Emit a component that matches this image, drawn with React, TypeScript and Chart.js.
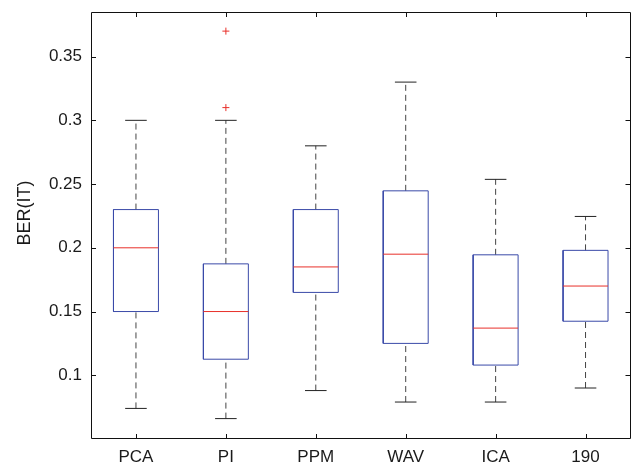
import React, { useEffect, useRef } from "react";
import { Chart, registerables } from "chart.js";

Chart.register(...registerables);

const categories = ["PCA", "PI", "PPM", "WAV", "ICA", "190"];
const lowerWhisker = [0.074, 0.066, 0.088, 0.079, 0.079, 0.090];
const q1 = [0.150, 0.1126, 0.165, 0.125, 0.108, 0.1424];
const median = [0.200, 0.150, 0.185, 0.195, 0.137, 0.170];
const q3 = [0.230, 0.1874, 0.230, 0.2447, 0.1945, 0.198];
const upperWhisker = [0.300, 0.300, 0.280, 0.330, 0.2537, 0.2246];
const outlierCategory = [2, 2];
const outlierValues = [0.31, 0.37];
const yTickValues = [0.1, 0.15, 0.2, 0.25, 0.3, 0.35];
const yTickLabels = ["0.1", "0.15", "0.2", "0.25", "0.3", "0.35"];
const yLabel = "BER(IT)";

const BOX_HALF = 0.25;
const CAP_HALF = 0.12;
const FONT = "'Liberation Sans', Arial, Helvetica, sans-serif";
const GAP = { x: null, y: null };

function buildBoxes() {
  const pts: any[] = [];
  categories.forEach((_, i) => {
    const c = i + 1;
    pts.push({ x: c - BOX_HALF, y: q1[i] }, { x: c + BOX_HALF, y: q1[i] }, { x: c + BOX_HALF, y: q3[i] },
      { x: c - BOX_HALF, y: q3[i] }, { x: c - BOX_HALF, y: q1[i] }, GAP);
  });
  return pts;
}
function buildMedians() {
  const pts: any[] = [];
  categories.forEach((_, i) => {
    const c = i + 1;
    pts.push({ x: c - BOX_HALF, y: median[i] }, { x: c + BOX_HALF, y: median[i] }, GAP);
  });
  return pts;
}
function buildWhiskers() {
  const pts: any[] = [];
  categories.forEach((_, i) => {
    const c = i + 1;
    pts.push({ x: c, y: q3[i] }, { x: c, y: upperWhisker[i] }, GAP, { x: c, y: lowerWhisker[i] }, { x: c, y: q1[i] }, GAP);
  });
  return pts;
}
function buildCaps() {
  const pts: any[] = [];
  categories.forEach((_, i) => {
    const c = i + 1;
    pts.push({ x: c - CAP_HALF, y: upperWhisker[i] }, { x: c + CAP_HALF, y: upperWhisker[i] }, GAP,
      { x: c - CAP_HALF, y: lowerWhisker[i] }, { x: c + CAP_HALF, y: lowerWhisker[i] }, GAP);
  });
  return pts;
}

const framePlugin = {
  id: "frame",
  afterDraw(chart: any) {
    const { ctx, chartArea, scales } = chart;
    const { left, right, top, bottom } = chartArea;
    const tl = 5;
    ctx.save();
    ctx.strokeStyle = "#111";
    ctx.lineWidth = 1;
    ctx.beginPath();
    ctx.rect(Math.round(left) + 0.5, Math.round(top) + 0.5, Math.round(right - left) - 1, Math.round(bottom - top) - 1);
    scales.x.ticks.forEach((t: any) => {
      const px = Math.round(scales.x.getPixelForValue(t.value)) + 0.5;
      ctx.moveTo(px, bottom);
      ctx.lineTo(px, bottom - tl);
      ctx.moveTo(px, top);
      ctx.lineTo(px, top + tl);
    });
    scales.y.ticks.forEach((t: any) => {
      const py = Math.round(scales.y.getPixelForValue(t.value)) + 0.5;
      ctx.moveTo(left, py);
      ctx.lineTo(left + tl, py);
      ctx.moveTo(right, py);
      ctx.lineTo(right - tl, py);
    });
    ctx.stroke();
    // y axis title
    ctx.fillStyle = "#1a1a1a";
    ctx.font = "18px " + FONT;
    ctx.textAlign = "center";
    ctx.textBaseline = "middle";
    ctx.translate(25, (top + bottom) / 2 - 12.5);
    ctx.rotate(-Math.PI / 2);
    ctx.fillText(yLabel, 0, 0);
    ctx.restore();
  },
};

export default function App() {
  const ref = useRef<HTMLCanvasElement>(null);
  useEffect(() => {
    if (!ref.current) return;
    const line = { showLine: true, pointRadius: 0, pointHoverRadius: 0, borderWidth: 1, spanGaps: false, fill: false };
    const chart = new Chart(ref.current, {
      type: "scatter",
      data: {
        datasets: [
          { ...line, data: buildWhiskers(), borderColor: "#444", borderDash: [6, 4], order: 5 },
          { ...line, data: buildCaps(), borderColor: "#222", order: 4 },
          { ...line, data: buildBoxes(), borderColor: "#3a4aa8", order: 3 },
          { ...line, data: buildMedians(), borderColor: "#e8302a", order: 2 },
          {
            data: outlierCategory.map((c, i) => ({ x: c, y: outlierValues[i] })),
            showLine: false,
            pointStyle: "cross",
            pointRadius: 3.5,
            pointHoverRadius: 3.5,
            borderColor: "#e8302a",
            backgroundColor: "#e8302a",
            borderWidth: 1,
            order: 1,
          },
        ] as any,
      },
      options: {
        animation: false,
        responsive: true,
        maintainAspectRatio: false,
        events: [],
        layout: { padding: { top: 12, right: 3, left: 0, bottom: 0 } },
        plugins: { legend: { display: false }, tooltip: { enabled: false } },
        scales: {
          x: {
            type: "linear",
            min: 0.5,
            max: 6.5,
            grid: { display: false, drawTicks: false },
            border: { display: false },
            afterBuildTicks: (s: any) => {
              s.ticks = categories.map((_, i) => ({ value: i + 1 }));
            },
            afterFit: (s: any) => {
              s.height = 26;
              s.paddingLeft = 0;
              s.paddingRight = 0;
              s.paddingTop = 0;
              s.paddingBottom = 0;
            },
            ticks: {
              padding: 8,
              color: "#1a1a1a",
              font: { family: FONT, size: 17 },
              maxRotation: 0,
              autoSkip: false,
              callback: (v: any) => categories[Math.round(v) - 1],
            },
          },
          y: {
            type: "linear",
            min: 0.05,
            max: 0.385,
            grid: { display: false, drawTicks: false },
            border: { display: false },
            afterBuildTicks: (s: any) => {
              s.ticks = yTickValues.map((v) => ({ value: v }));
            },
            afterFit: (s: any) => {
              s.width = 91;
              s.paddingLeft = 0;
              s.paddingRight = 0;
              s.paddingTop = 0;
              s.paddingBottom = 0;
            },
            ticks: {
              padding: 9,
              color: "#1a1a1a",
              font: { family: FONT, size: 17 },
              autoSkip: false,
              callback: (v: any) => yTickLabels[yTickValues.indexOf(v)],
            },
          },
        },
      },
      plugins: [framePlugin],
    });
    return () => chart.destroy();
  }, []);
  return (
    <div style={{ position: "fixed", left: 0, top: 0, width: 635, height: 465, background: "#fff" }}>
      <canvas ref={ref} />
    </div>
  );
}
